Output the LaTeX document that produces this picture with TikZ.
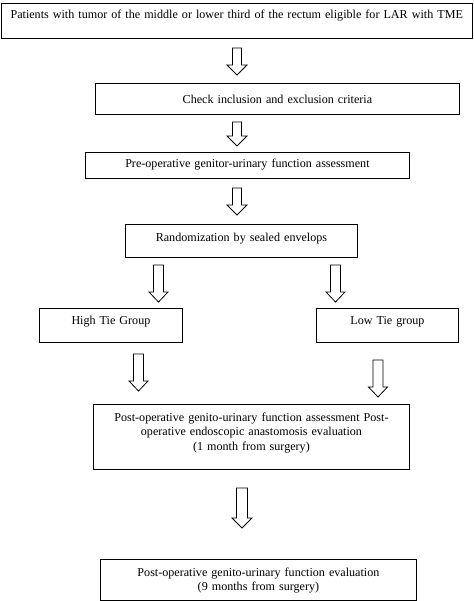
\documentclass[tikz,border=0pt]{standalone}
\usepackage{fontspec}
\setmainfont{Liberation Serif}
\begin{document}
\begin{tikzpicture}[x=1pt,y=-1pt,
  box/.style={draw=black,line width=0.9pt,inner sep=0pt,align=center,anchor=north west,
    font=\fontsize{12.1}{14.5}\selectfont},
  barrowstyle/.style={draw=black,line width=0.8pt,fill=white,line join=miter}]
\useasboundingbox (0,0) rectangle (473,601);
\newcommand{\blockarrow}[6]{%
  \draw[barrowstyle] ({#1-#4},#2) -- ({#1+#4},#2) -- ({#1+#4},{#3-#6}) -- ({#1+#5},{#3-#6})
    -- (#1,#3) -- ({#1-#5},{#3-#6}) -- ({#1-#4},{#3-#6}) -- cycle;}
% boxes
\node[box,text width=471.5pt,text height=15pt,text depth=20pt] (b1) at (0.5,3)
  {Patients with tumor of the middle or lower third of the rectum eligible for LAR with TME};
\node[box,text width=364pt,text height=20.5pt,text depth=10.5pt] (b2) at (95,83)
  {Check inclusion and exclusion criteria};
\node[box,text width=324pt,text height=15.5pt,text depth=10.5pt] (b3) at (85,152)
  {Pre-operative genitor-urinary function assessment};
\node[box,text width=232pt,text height=17.5pt,text depth=15.5pt] (b4) at (125,224)
  {Randomization by sealed envelops};
\node[box,text width=143pt,text height=16pt,text depth=18pt] (b5a) at (39,308)
  {High Tie Group};
\node[box,text width=142pt,text height=16pt,text depth=18pt] (b5b) at (316,308)
  {Low Tie group};
\node[box,text width=316pt,text height=17pt,text depth=48pt] (b7) at (93,404)
  {Post-operative genito-urinary function assessment Post-\\operative endoscopic anastomosis evaluation\\(1 month from surgery)};
\node[box,text width=316pt,text height=17pt,text depth=24pt] (b9) at (100,559)
  {Post-operative genito-urinary function evaluation\\(9 months from surgery)};
% block arrows
\blockarrow{237}{48}{75}{4.5}{10}{10}
\blockarrow{237}{122}{146}{4.5}{10}{10}
\blockarrow{237}{188}{215}{4.5}{10}{10}
\blockarrow{158.5}{265}{302}{5}{9.5}{10}
\blockarrow{335.5}{265}{302}{5}{9.5}{10}
\blockarrow{138.5}{354}{391}{5}{9.5}{10}
\blockarrow{378}{360}{397}{5}{9.5}{10}
\blockarrow{242}{488}{528}{5.5}{10}{10}
\end{tikzpicture}
\end{document}
